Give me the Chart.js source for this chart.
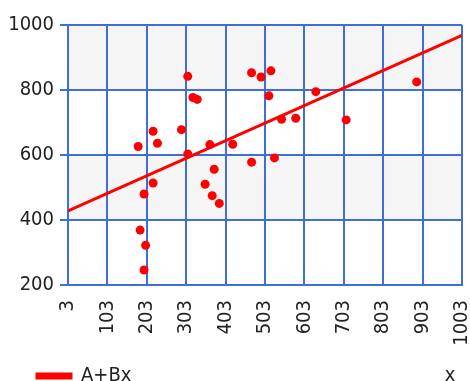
<!DOCTYPE html>
<html>
<head>
<meta charset="utf-8">
<script src="https://cdn.jsdelivr.net/npm/chart.js@4/dist/chart.umd.min.js"></script>
<style>
    html, body { margin: 0; padding: 0; background: #fff; overflow: hidden; }
    #wrap { width: 470px; height: 396px; }
</style>
</head>
<body>
<div id="wrap"><canvas id="fitChart"></canvas></div>
<script>
// ─── Data ──────────────────────────────────
const pointX = [181, 307, 320, 331, 291, 219, 230, 307, 363, 374, 351, 369, 387, 219, 196,
                186, 200, 196, 421, 469, 493, 518, 513, 632, 545, 581, 709, 888, 469, 527];
const pointY = [626, 842, 777, 771, 678, 673, 636, 603, 632, 556, 510, 475, 451, 514, 480,
                369, 322, 246, 633, 853, 840, 859, 782, 795, 710, 713, 708, 825, 578, 591];
const fitX   = [3, 1003];
const fitY   = [428, 968];
const fitLabel = 'A+Bx';
const xTitle   = 'x';

const FONT = "'DejaVu Sans Condensed', 'DejaVu Sans', sans-serif";
const FONT_SIZE = 20;
const GRID = '#3f6fd6';

// shade alternate bands, nudge the legend right, draw the x title beside it
const bandPlugin = {
    id: 'bands',
    afterLayout(chart) {
        chart.legend.left += 27;
    },
    beforeDraw(chart) {
        const { ctx, chartArea: a, scales: { y } } = chart;
        ctx.save();
        ctx.fillStyle = '#f5f5f5';
        [[800, 1000], [400, 600]].forEach(([lo, hi]) => {
            const top = y.getPixelForValue(hi);
            const bot = y.getPixelForValue(lo);
            ctx.fillRect(a.left, top, a.right - a.left, bot - top);
        });
        ctx.restore();
    },
    afterDraw(chart) {
        const { ctx, legend } = chart;
        const item = legend.legendHitBoxes[0];
        if (!item) return;
        ctx.save();
        ctx.font = `${FONT_SIZE}px ${FONT}`;
        ctx.fillStyle = '#222';
        ctx.textAlign = 'center';
        ctx.textBaseline = 'middle';
        ctx.fillText(xTitle, 450, item.top + item.height / 2);
        ctx.restore();
    }
};

new Chart(document.getElementById('fitChart').getContext('2d'), {
    type: 'scatter',
    data: {
        datasets: [
            {
                label: fitLabel,
                type: 'line',
                data: fitX.map((x, i) => ({ x, y: fitY[i] })),
                borderColor: '#ff0000',
                backgroundColor: '#ff0000',
                borderWidth: 3,
                pointRadius: 0,
                fill: false,
                order: 0
            },
            {
                label: 'data',
                data: pointX.map((x, i) => ({ x, y: pointY[i] })),
                backgroundColor: '#ff0000',
                borderWidth: 0,
                pointRadius: 4.5,
                order: 1
            }
        ]
    },
    plugins: [bandPlugin],
    options: {
        responsive: true,
        maintainAspectRatio: false,
        animation: false,
        layout: { padding: { top: 25, right: 8, left: 0, bottom: 0 } },
        plugins: {
            tooltip: { enabled: false },
            legend: {
                position: 'bottom',
                align: 'start',
                labels: {
                    filter: item => item.datasetIndex === 0,
                    boxWidth: 34,
                    boxHeight: 4,
                    padding: 10,
                    color: '#222',
                    font: { family: FONT, size: FONT_SIZE }
                }
            }
        },
        scales: {
            x: {
                type: 'linear',
                min: 3,
                max: 1003,
                afterFit(scale) {
                    scale.height = 71;
                    scale.paddingLeft = 0;
                    scale.paddingRight = 8;
                },
                grid: { color: GRID, lineWidth: 2, drawTicks: false },
                border: { color: GRID, width: 2 },
                ticks: {
                    stepSize: 100,
                    minRotation: 90,
                    maxRotation: 90,
                    padding: 15,
                    color: '#222',
                    font: { family: FONT, size: FONT_SIZE },
                    callback: v => String(v)
                }
            },
            y: {
                min: 200,
                max: 1000,
                afterFit(scale) { scale.width = 68; },
                grid: { color: GRID, lineWidth: 2, tickLength: 8 },
                border: { color: GRID, width: 2 },
                ticks: {
                    stepSize: 200,
                    padding: 6,
                    color: '#222',
                    font: { family: FONT, size: FONT_SIZE },
                    callback: v => String(v)
                }
            }
        }
    }
});
</script>
</body>
</html>
